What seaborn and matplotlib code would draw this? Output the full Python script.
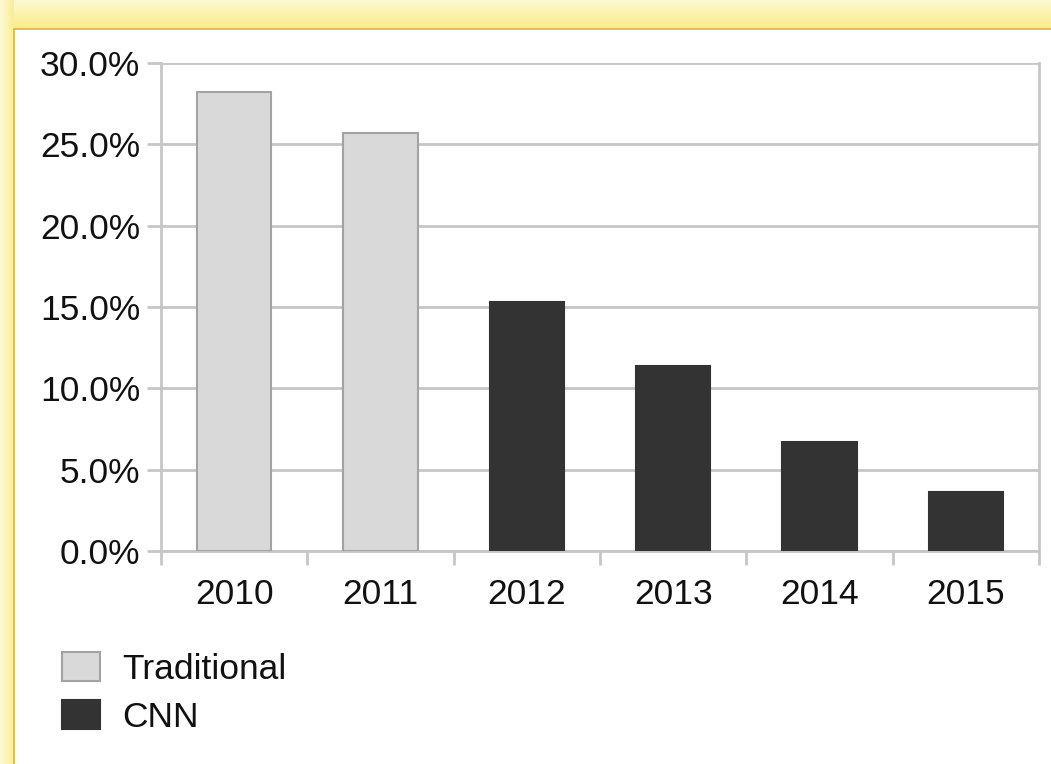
import matplotlib
matplotlib.use("Agg")
import matplotlib.pyplot as plt
import seaborn as sns
import pandas as pd
import numpy as np
from matplotlib.patches import Rectangle, Patch
from matplotlib.ticker import FuncFormatter, FixedLocator
from matplotlib.colors import LinearSegmentedColormap

years = ["2010", "2011", "2012", "2013", "2014", "2015"]
error_rates = [28.2, 25.7, 15.3, 11.4, 6.7, 3.6]
methods = ["Traditional", "Traditional", "CNN", "CNN", "CNN", "CNN"]
legend_labels = ["Traditional", "CNN"]
yticks = [0, 5, 10, 15, 20, 25, 30]

df = pd.DataFrame({"year": years, "rate": error_rates, "method": methods})

sns.set_style("white")
plt.rcParams["font.family"] = ["Liberation Sans", "DejaVu Sans"]

W, H = 1051, 764
FS = 25.5
TXT = "#111111"
fig = plt.figure(figsize=(W / 100, H / 100), dpi=100)
fig.patch.set_facecolor("#fbf29a")

# yellow frame
bg_ax = fig.add_axes([0, 0, 1, 1], zorder=-10)
bg_ax.set_xlim(0, W); bg_ax.set_ylim(H, 0); bg_ax.axis("off")
cmap = LinearSegmentedColormap.from_list("y", ["#fdf9d2", "#f9ec86"])
bg_ax.imshow(np.linspace(0, 1, 30).reshape(-1, 1), extent=(0, W, 29, 0), cmap=cmap, aspect="auto")
cmap2 = LinearSegmentedColormap.from_list("y2", ["#fdf9d2", "#faee95"])
bg_ax.imshow(np.linspace(0, 1, 14).reshape(1, -1), extent=(0, 14, H, 0), cmap=cmap2, aspect="auto")
bg_ax.add_patch(Rectangle((13.5, 29), W, H, facecolor="white", edgecolor="#d8b440", linewidth=1.2))

palette = {"Traditional": "#d9d9d9", "CNN": "#333333"}
edges = {"Traditional": "#a3a3a3", "CNN": "#333333"}

ax = fig.add_axes([161 / W, (H - 551) / H, 878 / W, 488 / H])
sns.barplot(data=df, x="year", y="rate", hue="method", palette=palette,
            dodge=False, width=0.51, ax=ax, legend=False, saturation=1)
for bar, m in zip(ax.patches, methods):
    bar.set_edgecolor(edges[m])
    bar.set_linewidth(1.5)
    bar.set_zorder(3)

ax.set_xlim(-0.5, 5.5)
ax.set_ylim(0, 30)
ax.set_yticks(yticks)
ax.yaxis.set_major_formatter(FuncFormatter(lambda v, p: f"{v:.1f}%"))
ax.grid(axis="y", color="#c6c6c6", linewidth=2, zorder=0)
ax.set_axisbelow(True)
ax.set_xlabel("")
ax.set_ylabel("")

for s in ["left", "right", "bottom"]:
    ax.spines[s].set_visible(True)
    ax.spines[s].set_color("#c6c6c6")
    ax.spines[s].set_linewidth(2)
ax.spines["top"].set_visible(False)

ax.xaxis.set_minor_locator(FixedLocator(np.arange(-0.5, 6, 1)))
ax.tick_params(axis="x", which="minor", length=10, width=2, color="#c6c6c6", bottom=True)
ax.tick_params(axis="x", which="major", length=0, pad=19.5, labelsize=FS, labelcolor=TXT)
ax.tick_params(axis="y", which="major", length=10, width=2, color="#c6c6c6", left=True,
               pad=5, labelsize=FS, labelcolor=TXT)

handles = [Patch(facecolor=palette[l], edgecolor=edges[l], linewidth=1.5) for l in legend_labels]
fig.legend(handles, legend_labels, loc="upper left",
           bbox_to_anchor=(62 / W, 1 - 652 / H), frameon=False, fontsize=FS,
           handlelength=1.07, handleheight=0.9, handletextpad=0.62, labelspacing=0.4,
           borderpad=0, borderaxespad=0, labelcolor=TXT)

fig.savefig("out.png", dpi=100)
